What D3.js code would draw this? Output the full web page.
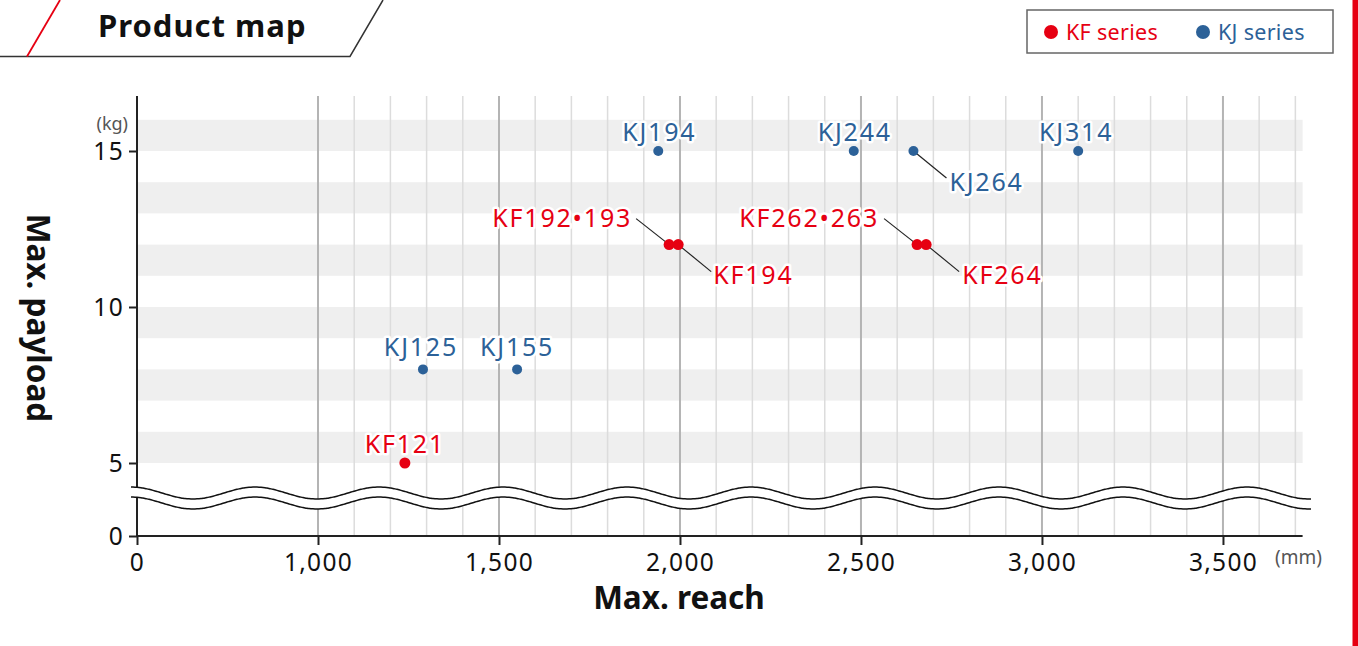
<!DOCTYPE html>
<html><head><meta charset="utf-8">
<script src="https://cdn.jsdelivr.net/npm/d3@7"></script>
<style>
html,body{margin:0;padding:0;background:#fff;}
svg{display:block;font-family:"Noto Sans","Open Sans",sans-serif;}
</style></head>
<body>
<svg id="chart" width="1358" height="646"></svg>
<script>
// ---- data ----
const kfNames   = ["KF121", "KF192\u2022193", "KF194", "KF262\u2022263", "KF264"];
const kfReach   = [1240, 1970, 1995, 2655, 2680];
const kfPayload = [5, 12, 12, 12, 12];

const kjNames   = ["KJ125", "KJ155", "KJ194", "KJ244", "KJ264", "KJ314"];
const kjReach   = [1290, 1550, 1940, 2480, 2645, 3100];
const kjPayload = [8, 8, 15, 15, 15, 15];

const xTicks = [0, 1000, 1500, 2000, 2500, 3000, 3500];
const yTicks = [0, 5, 10, 15];
const bandStarts = [5, 7, 9, 11, 13, 15];
const seriesNames = ["KF series", "KJ series"];

// ---- layout (label offsets from the point, px) ----
const labelLayout = {
  "KF121":        {dx: 0,   dy: -10, anchor: "middle"},
  "KF192\u2022193": {dx: -37, dy: -18, anchor: "end",   lx: -33, ly: -26},
  "KF194":        {dx: 35,  dy: 39,  anchor: "start", lx: 33,  ly: 27},
  "KF262\u2022263": {dx: -38, dy: -18, anchor: "end",   lx: -33, ly: -26},
  "KF264":        {dx: 36,  dy: 39,  anchor: "start", lx: 33,  ly: 27},
  "KJ125":        {dx: -2,  dy: -13, anchor: "middle"},
  "KJ155":        {dx: 0,   dy: -13, anchor: "middle"},
  "KJ194":        {dx: 1,   dy: -10, anchor: "middle"},
  "KJ244":        {dx: 1,   dy: -10, anchor: "middle"},
  "KJ264":        {dx: 36,  dy: 40,  anchor: "start", lx: 33,  ly: 27},
  "KJ314":        {dx: -2,  dy: -10, anchor: "middle"}
};

const RED = "#e60012", BLUE = "#2c6198";
const svg = d3.select("#chart");

const x = d3.scaleLinear().domain([0, 1000, 3720]).range([137, 318, 1302.6]);
const y = d3.scaleLinear().domain([0, 5, 16.75]).range([536, 463, 96.4]);

// right red bar
svg.append("rect").attr("x", 1352.5).attr("y", 0).attr("width", 6).attr("height", 646).attr("fill", RED);

// title
svg.append("path").attr("d", "M0,56.5 L350,56.5 L383,0").attr("fill", "none").attr("stroke", "#333").attr("stroke-width", 1.5);
svg.append("path").attr("d", "M27,56.5 L60,0").attr("fill", "none").attr("stroke", RED).attr("stroke-width", 1.8);
svg.append("text").attr("x", 98).attr("y", 37).attr("font-size", 31).attr("font-weight", "bold")
  .attr("letter-spacing", 1).attr("fill", "#111").text("Product map");

// legend
svg.append("rect").attr("x", 1027).attr("y", 10).attr("width", 306).attr("height", 43)
  .attr("fill", "#fff").attr("stroke", "#666").attr("stroke-width", 1.5);
const legendColors = [RED, BLUE];
const legendX = [1051, 1203];
seriesNames.forEach((n, i) => {
  svg.append("circle").attr("cx", legendX[i]).attr("cy", 32).attr("r", 7).attr("fill", legendColors[i]);
  svg.append("text").attr("x", legendX[i] + 15).attr("y", 40).attr("font-size", 21.5)
    .attr("letter-spacing", 0.3).attr("fill", legendColors[i]).text(n);
});

// bands
const plot = svg.append("g");
plot.selectAll("rect.band").data(bandStarts).join("rect").attr("class", "band")
  .attr("x", x(0)).attr("width", x(3720) - x(0))
  .attr("y", d => y(d + 1)).attr("height", d => y(d) - y(d + 1))
  .attr("fill", "#efefef");

// grid lines
const minor = d3.range(1100, 3701, 100).filter(v => v % 500 !== 0);
const major = d3.range(1000, 3501, 500);
plot.selectAll("line.minor").data(minor).join("line")
  .attr("x1", d => x(d)).attr("x2", d => x(d)).attr("y1", 96).attr("y2", y(0))
  .attr("stroke", "#dcdcdc").attr("stroke-width", 1.5);
plot.selectAll("line.major").data(major).join("line")
  .attr("x1", d => x(d)).attr("x2", d => x(d)).attr("y1", 96).attr("y2", y(0))
  .attr("stroke", "#b4b4b4").attr("stroke-width", 2);

// axes
const yAxis = svg.append("g").attr("transform", `translate(${x(0)},0)`)
  .call(d3.axisLeft(y).tickValues(yTicks).tickSize(8).tickPadding(5).tickFormat(d3.format("d")));
const xAxis = svg.append("g").attr("transform", `translate(0,${y(0)})`)
  .call(d3.axisBottom(x).tickValues(xTicks).tickSize(9).tickPadding(5).tickFormat(d3.format(",")));
[yAxis, xAxis].forEach(a => {
  a.select(".domain").attr("stroke", "#222").attr("stroke-width", 2);
  a.selectAll(".tick line").attr("stroke", "#222").attr("stroke-width", 2);
  a.selectAll(".tick text").attr("font-size", 24.5).attr("fill", "#111")
    .attr("font-family", "'Noto Sans','Open Sans',sans-serif").attr("letter-spacing", 1.3);
});
yAxis.select(".domain").attr("d", `M0,${y(0)}V96`);
xAxis.select(".domain").attr("d", `M${x(0)},0H${x(3720)}`);
xAxis.selectAll(".tick text").attr("dy", "0.85em");
yAxis.selectAll(".tick text").attr("dy", "0.36em");

// break wave
const waveX = d3.range(131, 1313, 2);
const waveF = (px, base) => base - 6 * Math.cos(2 * Math.PI * (px - 131) / 124);
const upper = waveX.map(px => [px, waveF(px, 493)]);
const lower = waveX.map(px => [px, waveF(px, 503)]);
const lineGen = d3.line().curve(d3.curveBasis);
svg.append("path").attr("d", lineGen(upper) + "L" + lower.slice().reverse().map(p => p.join(",")).join("L") + "Z")
  .attr("fill", "#fff");
svg.append("path").attr("d", lineGen(upper)).attr("fill", "none").attr("stroke", "#111").attr("stroke-width", 1.5);
svg.append("path").attr("d", lineGen(lower)).attr("fill", "none").attr("stroke", "#111").attr("stroke-width", 1.5);

// unit labels
svg.append("text").attr("x", 128).attr("y", 130).attr("text-anchor", "end").attr("font-size", 18)
  .attr("fill", "#555").text("(kg)");
svg.append("text").attr("x", 1275).attr("y", 564).attr("font-size", 19)
  .attr("fill", "#555").text("(mm)");

// axis titles
svg.append("text").attr("x", 679).attr("y", 609).attr("text-anchor", "middle")
  .attr("font-size", 31.5).attr("font-weight", "bold").attr("fill", "#111").text("Max. reach");
svg.append("text").attr("transform", "translate(27,318) rotate(90)").attr("text-anchor", "middle")
  .attr("font-size", 31.5).attr("font-weight", "bold").attr("fill", "#111").text("Max. payload");

// points
const kf = kfNames.map((n, i) => ({name: n, reach: kfReach[i], payload: kfPayload[i], color: RED, r: 5.5}));
const kj = kjNames.map((n, i) => ({name: n, reach: kjReach[i], payload: kjPayload[i], color: BLUE, r: 5}));
const all = kj.concat(kf);

const g = svg.append("g");
g.selectAll("line.leader").data(all.filter(d => labelLayout[d.name].lx !== undefined)).join("line")
  .attr("x1", d => x(d.reach)).attr("y1", d => y(d.payload))
  .attr("x2", d => x(d.reach) + labelLayout[d.name].lx).attr("y2", d => y(d.payload) + labelLayout[d.name].ly)
  .attr("stroke", "#222").attr("stroke-width", 1.2);
g.selectAll("circle.pt").data(all).join("circle")
  .attr("cx", d => x(d.reach)).attr("cy", d => y(d.payload)).attr("r", d => d.r).attr("fill", d => d.color);
g.selectAll("text.lbl").data(all).join("text")
  .attr("x", d => x(d.reach) + labelLayout[d.name].dx)
  .attr("y", d => y(d.payload) + labelLayout[d.name].dy)
  .attr("text-anchor", d => labelLayout[d.name].anchor)
  .attr("font-size", 25).attr("letter-spacing", 1.8)
  .attr("fill", d => d.color)
  .attr("stroke", "#fff").attr("stroke-width", 5).attr("stroke-linejoin", "round")
  .attr("paint-order", "stroke")
  .text(d => d.name);
</script>
</body></html>
